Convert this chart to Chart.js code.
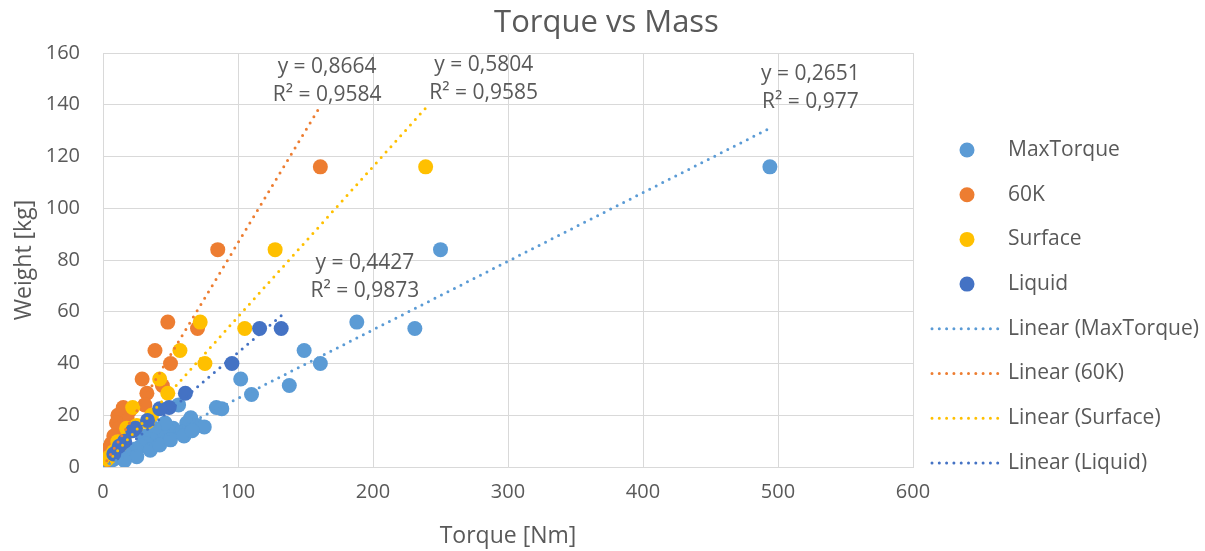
<!DOCTYPE html>
<html>
<head>
<meta charset="utf-8">
<title>Torque vs Mass</title>
<script src="https://cdn.jsdelivr.net/npm/chart.js@4.4.1/dist/chart.umd.min.js"></script>
<style>
    html, body { margin: 0; padding: 0; background: #ffffff; }
    #wrap { width: 1205px; height: 551px; }
</style>
</head>
<body>
<div id="wrap"><canvas id="torqueChart" width="1205" height="551"></canvas></div>
<script>
// Measured torque [Nm] against weight [kg] per test condition
const maxTorqueX = [494, 250, 188, 231, 149, 161, 102, 138, 110, 84, 88, 56, 65, 62, 70, 75, 52, 58, 48, 44, 46, 40, 38, 36, 30, 32, 28, 24, 20, 16, 12, 8, 5, 35, 42, 50, 25, 16, 60, 66]
const maxTorqueY = [116, 84, 56, 53.5, 45, 40, 34, 31.5, 28, 23, 22.5, 24, 19, 17, 16, 15.5, 15, 13.5, 14, 13, 17, 12, 15, 10.5, 12, 9, 8, 7, 6, 5, 4, 3, 2, 6.5, 8.5, 10.5, 4, 2.5, 12, 14]

const k60X = [161, 85, 48, 70, 38.5, 50, 29, 44, 32.5, 15, 20, 31, 11, 18, 10, 12, 8, 6, 4, 3, 2, 1.5, 1]
const k60Y = [116, 84, 56, 53.5, 45, 40, 34, 31.5, 28.5, 23, 22, 24, 20, 18, 17, 15, 12, 9, 7, 5, 3.5, 2.5, 2]

const surfaceX = [239, 127.5, 72, 105, 57, 75.5, 42, 48, 22, 36, 33, 25, 17.5, 20, 18.5, 11, 12.6, 8, 5, 3]
const surfaceY = [116, 84, 56, 53.5, 45, 40, 34, 28.5, 23, 20, 17.5, 16, 15, 14, 13.5, 9.8, 8.5, 6, 4, 3]

const liquidX = [116, 132, 95.5, 61, 49, 42, 33, 24, 22, 16, 12, 8]
const liquidY = [53.5, 53.5, 40, 28.5, 23, 22.5, 18, 15, 14, 10, 8, 5]

// Zero-intercept linear fits
const seriesNames = ["MaxTorque", "60K", "Surface", "Liquid"]
const slopes = [0.2651, 0.8664, 0.5804, 0.4427]
const rSquared = ["0,977", "0,9584", "0,9585", "0,9873"]
const colors = ["#5B9BD5", "#ED7D31", "#FFC000", "#4472C4"]

const TEXT = "#595959"
const GRID = "#D9D9D9"
const FONT = "'Open Sans', Lato, sans-serif"

const pairs = (xs, ys) => xs.map((x, i) => ({ x: x, y: ys[i] }))
const seriesPoints = [
    pairs(maxTorqueX, maxTorqueY),
    pairs(k60X, k60Y),
    pairs(surfaceX, surfaceY),
    pairs(liquidX, liquidY),
]

// trend line spans 0 .. largest torque of its series
function trendPoints(i) {
    const xmax = Math.max(...seriesPoints[i].map((p) => p.x))
    return [{ x: 0, y: 0 }, { x: xmax, y: slopes[i] * xmax }]
}

// where each equation box sits, in data units (centre of the first line)
const equationAnchors = [
    { x: 524, y: 152 },
    { x: 166, y: 154.5 },
    { x: 282, y: 155.5 },
    { x: 194, y: 79 },
]

const datasets = []
seriesNames.forEach((name, i) => {
    datasets.push({
        label: name,
        data: seriesPoints[i],
        backgroundColor: colors[i],
        borderWidth: 0,
        pointRadius: 7.5,
        pointHoverRadius: 7.5,
        order: 10 - i,
    })
})
seriesNames.forEach((name, i) => {
    datasets.push({
        label: "Linear (" + name + ")",
        data: trendPoints(i),
        showLine: true,
        borderColor: colors[i],
        borderWidth: 3,
        borderDash: [0, 7.3],
        borderCapStyle: "round",
        pointRadius: 0,
        pointHoverRadius: 0,
        order: 1,
    })
})

// chart title, centred across the whole canvas
const chartTitle = {
    id: "chartTitle",
    afterDraw(chart) {
        const { ctx } = chart
        ctx.save()
        ctx.fillStyle = TEXT
        ctx.font = "31px " + FONT
        ctx.textAlign = "center"
        ctx.textBaseline = "middle"
        ctx.fillText("Torque vs Mass", chart.width / 2 + 4, 23)
        ctx.restore()
    },
}

// equations next to the trend lines
const equationLabels = {
    id: "equationLabels",
    afterDatasetsDraw(chart) {
        const { ctx, scales } = chart
        ctx.save()
        ctx.fillStyle = TEXT
        ctx.font = "21px " + FONT
        ctx.textAlign = "center"
        ctx.textBaseline = "middle"
        equationAnchors.forEach((a, i) => {
            const px = scales.x.getPixelForValue(a.x)
            const py = scales.y.getPixelForValue(a.y)
            ctx.fillText("y = " + slopes[i].toFixed(4).replace(".", ","), px, py)
            ctx.fillText("R\u00B2 = " + rSquared[i], px, py + 28)
        })
        ctx.restore()
    },
}

// legend stacked on the right, markers for points and dotted strokes for fits
const sideLegend = {
    id: "sideLegend",
    afterDraw(chart) {
        const { ctx } = chart
        const top = 150
        const step = 44.7
        ctx.save()
        ctx.font = "21px " + FONT
        ctx.textBaseline = "middle"
        ctx.textAlign = "left"
        chart.data.datasets.forEach((ds, i) => {
            const y = top + i * step
            if (ds.showLine) {
                ctx.strokeStyle = ds.borderColor
                ctx.lineWidth = 3
                ctx.lineCap = "round"
                ctx.setLineDash([0, 7.3])
                ctx.beginPath()
                ctx.moveTo(932, y)
                ctx.lineTo(1000, y)
                ctx.stroke()
                ctx.setLineDash([])
            } else {
                ctx.fillStyle = ds.backgroundColor
                ctx.beginPath()
                ctx.arc(967, y, 7.5, 0, Math.PI * 2)
                ctx.fill()
            }
            ctx.fillStyle = TEXT
            ctx.fillText(ds.label, 1008, y)
        })
        ctx.restore()
    },
}

const ctx = document.getElementById("torqueChart").getContext("2d")
new Chart(ctx, {
    type: "scatter",
    data: { datasets: datasets },
    options: {
        responsive: false,
        animation: false,
        events: [],
        layout: { padding: { left: 0, right: 292, top: 53, bottom: 0 } },
        plugins: {
            legend: { display: false },
            tooltip: { enabled: false },
            title: { display: false },
        },
        scales: {
            x: {
                type: "linear",
                min: 0,
                max: 600,
                ticks: { stepSize: 100, color: TEXT, padding: 13, font: { family: FONT, size: 20 } },
                grid: { color: GRID, lineWidth: 1, drawTicks: false },
                border: { color: GRID },
                title: {
                    display: true,
                    text: "Torque [Nm]",
                    color: TEXT,
                    font: { family: FONT, size: 23 },
                    padding: { top: 0, bottom: 1 },
                },
                afterFit: (scale) => { scale.height = 84 },
            },
            y: {
                type: "linear",
                min: 0,
                max: 160,
                ticks: { stepSize: 20, color: TEXT, padding: 23, font: { family: FONT, size: 20 } },
                grid: { color: GRID, lineWidth: 1, drawTicks: false },
                border: { color: GRID },
                title: {
                    display: true,
                    text: "Weight [kg]",
                    color: TEXT,
                    font: { family: FONT, size: 23 },
                    padding: { top: 11, bottom: 0 },
                },
                afterFit: (scale) => { scale.width = 103 },
            },
        },
    },
    plugins: [chartTitle, equationLabels, sideLegend],
})
</script>
</body>
</html>
